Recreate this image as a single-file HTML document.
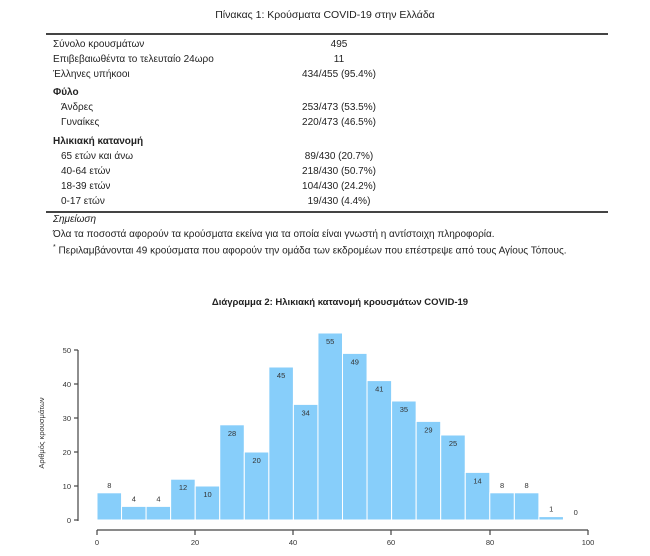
<!DOCTYPE html>
<html><head><meta charset="utf-8"><style>
body{margin:0;background:#fff;width:650px;height:556px;position:relative;font-family:"Liberation Sans","DejaVu Sans",sans-serif;color:#222;font-size:10px;overflow:hidden}
.t{position:absolute;white-space:nowrap}
.v{position:absolute;left:280px;width:118px;text-align:center}
.b{font-weight:bold}
</style></head><body>
<div class="t" style="left:0;width:650px;text-align:center;top:9px;font-size:10.5px">Πίνακας 1: Κρούσματα COVID-19 στην Ελλάδα</div>
<div style="position:absolute;left:46px;top:33px;width:562px;height:2px;background:#444"></div>
<div class="t" style="left:53px;top:39px">Σύνολο κρουσμάτων</div><div class="t v" style="top:39px">495</div>
<div class="t" style="left:53px;top:54px">Επιβεβαιωθέντα το τελευταίο 24ωρο</div><div class="t v" style="top:54px">11</div>
<div class="t" style="left:53px;top:69px">Έλληνες υπήκοοι</div><div class="t v" style="top:69px">434/455 (95.4%)</div>
<div class="t b" style="left:53px;top:87px">Φύλο</div>
<div class="t" style="left:61px;top:102px">Άνδρες</div><div class="t v" style="top:102px">253/473 (53.5%)</div>
<div class="t" style="left:61px;top:117px">Γυναίκες</div><div class="t v" style="top:117px">220/473 (46.5%)</div>
<div class="t b" style="left:53px;top:136px">Ηλικιακή κατανομή</div>
<div class="t" style="left:61px;top:151px">65 ετών και άνω</div><div class="t v" style="top:151px">89/430 (20.7%)</div>
<div class="t" style="left:61px;top:166px">40-64 ετών</div><div class="t v" style="top:166px">218/430 (50.7%)</div>
<div class="t" style="left:61px;top:181px">18-39 ετών</div><div class="t v" style="top:181px">104/430 (24.2%)</div>
<div class="t" style="left:61px;top:196px">0-17 ετών</div><div class="t v" style="top:196px">19/430 (4.4%)</div>
<div style="position:absolute;left:46px;top:211px;width:562px;height:2px;background:#444"></div>
<div class="t" style="left:53px;top:214px;font-style:italic">Σημείωση</div>
<div class="t" style="left:53px;top:229px">Όλα τα ποσοστά αφορούν τα κρούσματα εκείνα για τα οποία είναι γνωστή η αντίστοιχη πληροφορία.</div>
<div class="t" style="left:53px;top:244px"><sup style="font-size:7px">*</sup> Περιλαμβάνονται 49 κρούσματα που αφορούν την ομάδα των εκδρομέων που επέστρεψε από τους Αγίους Τόπους.</div>

<svg style="position:absolute;left:0;top:0" width="650" height="556" font-family="Liberation Sans, DejaVu Sans, sans-serif">
<text x="340" y="305" text-anchor="middle" font-size="9.5" font-weight="bold" fill="#222">Διάγραμμα 2: Ηλικιακή κατανομή κρουσμάτων COVID-19</text>
<g fill="#87cefa" stroke="#fff" stroke-width="1">
<rect x="97" y="492.8" width="24.55" height="27.2"/>
<rect x="121.55" y="506.4" width="24.55" height="13.6"/>
<rect x="146.1" y="506.4" width="24.55" height="13.6"/>
<rect x="170.65" y="479.2" width="24.55" height="40.8"/>
<rect x="195.2" y="486" width="24.55" height="34"/>
<rect x="219.75" y="424.8" width="24.55" height="95.2"/>
<rect x="244.3" y="452" width="24.55" height="68"/>
<rect x="268.85" y="367" width="24.55" height="153"/>
<rect x="293.4" y="404.4" width="24.55" height="115.6"/>
<rect x="317.95" y="333" width="24.55" height="187"/>
<rect x="342.5" y="353.4" width="24.55" height="166.6"/>
<rect x="367.05" y="380.6" width="24.55" height="139.4"/>
<rect x="391.6" y="401" width="24.55" height="119"/>
<rect x="416.15" y="421.4" width="24.55" height="98.6"/>
<rect x="440.7" y="435" width="24.55" height="85"/>
<rect x="465.25" y="472.4" width="24.55" height="47.6"/>
<rect x="489.8" y="492.8" width="24.55" height="27.2"/>
<rect x="514.35" y="492.8" width="24.55" height="27.2"/>
<rect x="538.9" y="516.6" width="24.55" height="3.4"/>
</g>
<g font-size="7.5" fill="#333" text-anchor="middle">
<text x="109.3" y="487.8">8</text>
<text x="133.8" y="501.4">4</text>
<text x="158.4" y="501.4">4</text>
<text x="183" y="490.2">12</text>
<text x="207.5" y="497">10</text>
<text x="232" y="435.8">28</text>
<text x="256.6" y="463">20</text>
<text x="281.1" y="378">45</text>
<text x="305.7" y="415.4">34</text>
<text x="330.2" y="344">55</text>
<text x="354.8" y="364.4">49</text>
<text x="379.3" y="391.6">41</text>
<text x="403.9" y="412">35</text>
<text x="428.4" y="432.4">29</text>
<text x="453" y="446">25</text>
<text x="477.5" y="483.4">14</text>
<text x="502.1" y="487.8">8</text>
<text x="526.6" y="487.8">8</text>
<text x="551.2" y="511.6">1</text>
<text x="575.7" y="515">0</text>
</g>
<line x1="78" y1="350" x2="78" y2="521" stroke="#444" stroke-width="1.2"/>
<g stroke="#444" stroke-width="1.2">
<line x1="74" y1="520" x2="78" y2="520"/><line x1="74" y1="486" x2="78" y2="486"/><line x1="74" y1="452" x2="78" y2="452"/><line x1="74" y1="418" x2="78" y2="418"/><line x1="74" y1="384" x2="78" y2="384"/><line x1="74" y1="350" x2="78" y2="350"/>
<line x1="97" y1="530" x2="588" y2="530"/>
<line x1="97" y1="530" x2="97" y2="535"/><line x1="195" y1="530" x2="195" y2="535"/><line x1="293" y1="530" x2="293" y2="535"/><line x1="391" y1="530" x2="391" y2="535"/><line x1="490" y1="530" x2="490" y2="535"/><line x1="588" y1="530" x2="588" y2="535"/>
</g>
<g font-size="7.5" fill="#333" text-anchor="end">
<text x="71" y="523">0</text><text x="71" y="489">10</text><text x="71" y="455">20</text><text x="71" y="421">30</text><text x="71" y="387">40</text><text x="71" y="353">50</text></g>
<g font-size="7.5" fill="#333" text-anchor="middle">
<text x="97" y="545">0</text><text x="195" y="545">20</text><text x="293" y="545">40</text><text x="391" y="545">60</text><text x="490" y="545">80</text><text x="588" y="545">100</text></g>
<text transform="translate(44,433) rotate(-90)" font-size="7.5" fill="#333" text-anchor="middle">Αριθμός κρουσμάτων</text>
</svg>
</body></html>
